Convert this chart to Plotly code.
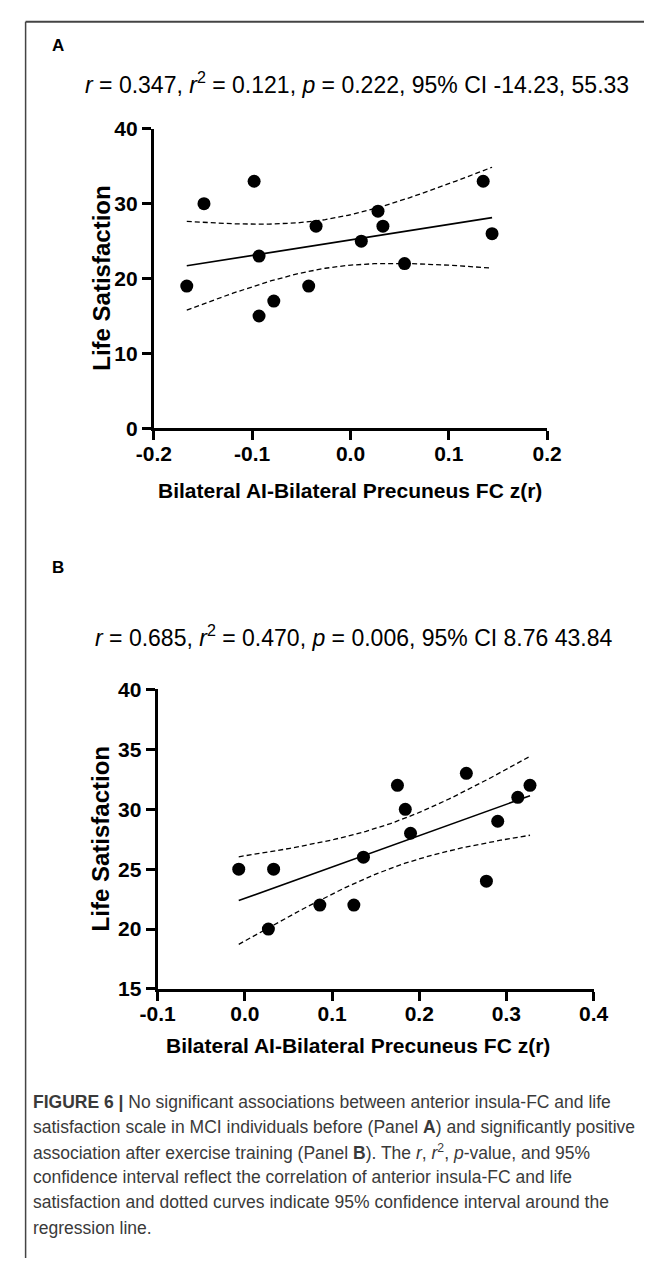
import numpy as np
import plotly.graph_objects as go

W, H = 659, 1269

# ---------------- data ----------------
a_x = [-0.1665, -0.149, -0.098, -0.093, -0.093, -0.078, -0.0425, -0.035,
       0.011, 0.028, 0.033, 0.055, 0.135, 0.144]
a_y = [19, 30, 33, 23, 15, 17, 19, 27, 25, 29, 27, 22, 33, 26]

b_x = [-0.007, 0.033, 0.027, 0.086, 0.125, 0.136, 0.175, 0.184, 0.190,
       0.254, 0.277, 0.290, 0.313, 0.327]
b_y = [25, 25, 20, 22, 22, 26, 32, 30, 28, 33, 24, 29, 31, 32]

a_xticks = [-0.2, -0.1, 0.0, 0.1, 0.2]
a_yticks = [0, 10, 20, 30, 40]
b_xticks = [-0.1, 0.0, 0.1, 0.2, 0.3, 0.4]
b_yticks = [15, 20, 25, 30, 35, 40]

T_CRIT_DF12 = 2.179  # t(0.975, df=12)

stat_a = "<i>r</i> = 0.347, <i>r</i><sup>2</sup> = 0.121, <i>p</i> = 0.222, 95% CI -14.23, 55.33"
stat_b = "<i>r</i> = 0.685, <i>r</i><sup>2</sup> = 0.470, <i>p</i> = 0.006, 95% CI 8.76 43.84"
ytitle = "Life Satisfaction"
xtitle = "Bilateral AI-Bilateral Precuneus FC z(r)"
caption_lines = [
    "<b>FIGURE 6 |</b> No significant associations between anterior insula-FC and life",
    "satisfaction scale in MCI individuals before (Panel <b>A</b>) and significantly positive",
    "association after exercise training (Panel <b>B</b>). The <i>r</i>, <i>r</i><sup>2</sup>, <i>p</i>-value, and 95%",
    "confidence interval reflect the correlation of anterior insula-FC and life",
    "satisfaction and dotted curves indicate 95% confidence interval around the",
    "regression line.",
]


def fit(xs, ys):
    x = np.asarray(xs, float)
    y = np.asarray(ys, float)
    n = len(x)
    slope, icpt = np.polyfit(x, y, 1)
    resid = y - (slope * x + icpt)
    s = np.sqrt(np.sum(resid ** 2) / (n - 2))
    xm = x.mean()
    sxx = np.sum((x - xm) ** 2)
    g = np.linspace(x.min(), x.max(), 120)
    yh = slope * g + icpt
    se = s * np.sqrt(1.0 / n + (g - xm) ** 2 / sxx)
    return g, yh, yh - T_CRIT_DF12 * se, yh + T_CRIT_DF12 * se


def px(x):
    return x / W


def py(y):
    return 1 - y / H


fig = go.Figure()

panels = [
    dict(x=a_x, y=a_y, xa="x", ya="y", xdom=(143, 557), ydom=(119, 424),
         xr=[-0.2, 0.2], yr=[0, 40], xt=a_xticks, yt=a_yticks),
    dict(x=b_x, y=b_y, xa="x2", ya="y2", xdom=(147, 606), ydom=(690, 995),
         xr=[-0.1, 0.4], yr=[15, 40], xt=b_xticks, yt=b_yticks),
]

for i, p in enumerate(panels):
    g, yh, lo, hi = fit(p["x"], p["y"])
    for yy in (lo, hi):
        fig.add_trace(go.Scatter(x=g, y=yy, mode="lines", xaxis=p["xa"], yaxis=p["ya"],
                                 line=dict(color="black", width=1.3, dash="5px,3px"),
                                 showlegend=False, hoverinfo="skip"))
    fig.add_trace(go.Scatter(x=g, y=yh, mode="lines", xaxis=p["xa"], yaxis=p["ya"],
                             line=dict(color="black", width=1.6),
                             showlegend=False, hoverinfo="skip"))
    fig.add_trace(go.Scatter(x=p["x"], y=p["y"], mode="markers", xaxis=p["xa"], yaxis=p["ya"],
                             marker=dict(color="black", size=13),
                             showlegend=False))
    sfx = "" if i == 0 else "2"
    common = dict(showline=True, linecolor="black", linewidth=3, ticks="outside",
                  ticklen=9, tickwidth=2.5, tickcolor="black", showgrid=False,
                  zeroline=False,
                  tickfont=dict(family="Liberation Sans", size=21, color="black", weight="bold"))
    fig.update_layout(**{
        "xaxis" + sfx: dict(domain=[px(p["xdom"][0]), px(p["xdom"][1])], range=p["xr"],
                            tickvals=p["xt"], ticktext=[f"{v:.1f}" for v in p["xt"]],
                            anchor="y" + sfx, ticklabelstandoff=-5, **common),
        "yaxis" + sfx: dict(domain=[py(p["ydom"][1]), py(p["ydom"][0])], range=p["yr"],
                            tickvals=p["yt"], anchor="x" + sfx, **common),
    })

ann = []
xbold = dict(family="Liberation Sans", size=21, color="black", weight="bold")
ybold = dict(family="Liberation Sans", size=24, color="black", weight="bold")
letter = dict(family="Liberation Sans", size=17, color="black")
stat = dict(family="Liberation Sans", size=23, color="black")
# panel letters
ann.append(dict(x=px(34), y=py(34), text="<b>A</b>", font=letter, xanchor="left", yanchor="middle"))
ann.append(dict(x=px(34), y=py(566), text="<b>B</b>", font=letter, xanchor="left", yanchor="middle"))
# stat texts
ann.append(dict(x=px(357), y=py(72), text=stat_a, font=stat, xanchor="center", yanchor="middle"))
ann.append(dict(x=px(354), y=py(636), text=stat_b, font=stat, xanchor="center", yanchor="middle"))
# axis titles
ann.append(dict(x=px(349), y=py(487), text=xtitle, font=xbold, xanchor="center", yanchor="middle"))
ann.append(dict(x=px(358), y=py(1053), text=xtitle, font=xbold, xanchor="center", yanchor="middle"))
ann.append(dict(x=px(87), y=py(271), text=ytitle, font=ybold, textangle=-90, xanchor="center", yanchor="middle"))
ann.append(dict(x=px(87), y=py(842), text=ytitle, font=ybold, textangle=-90, xanchor="center", yanchor="middle"))
# caption
for k, line in enumerate(caption_lines):
    ann.append(dict(x=px(14), y=py(1110 + k * 25.6), text=line,
                    font=dict(family="Liberation Sans", size=17.5, color="#3a3a3a"),
                    xanchor="left", yanchor="middle"))

for a in ann:
    a.update(xref="paper", yref="paper", showarrow=False)

shapes = [
    dict(type="line", xref="paper", yref="paper", x0=px(8), x1=1.0, y0=py(10), y1=py(10),
         line=dict(color="#444", width=2)),
    dict(type="line", xref="paper", yref="paper", x0=px(8), x1=px(8), y0=py(10), y1=0,
         line=dict(color="#444", width=1.5)),
]

fig.update_layout(width=W, height=H, margin=dict(l=0, r=0, t=0, b=0),
                  paper_bgcolor="white", plot_bgcolor="white",
                  annotations=ann, shapes=shapes, showlegend=False)

fig.write_html("out.html", config={"displayModeBar": False},
               post_script="document.body.style.margin='0px';document.body.style.overflow='hidden';")
